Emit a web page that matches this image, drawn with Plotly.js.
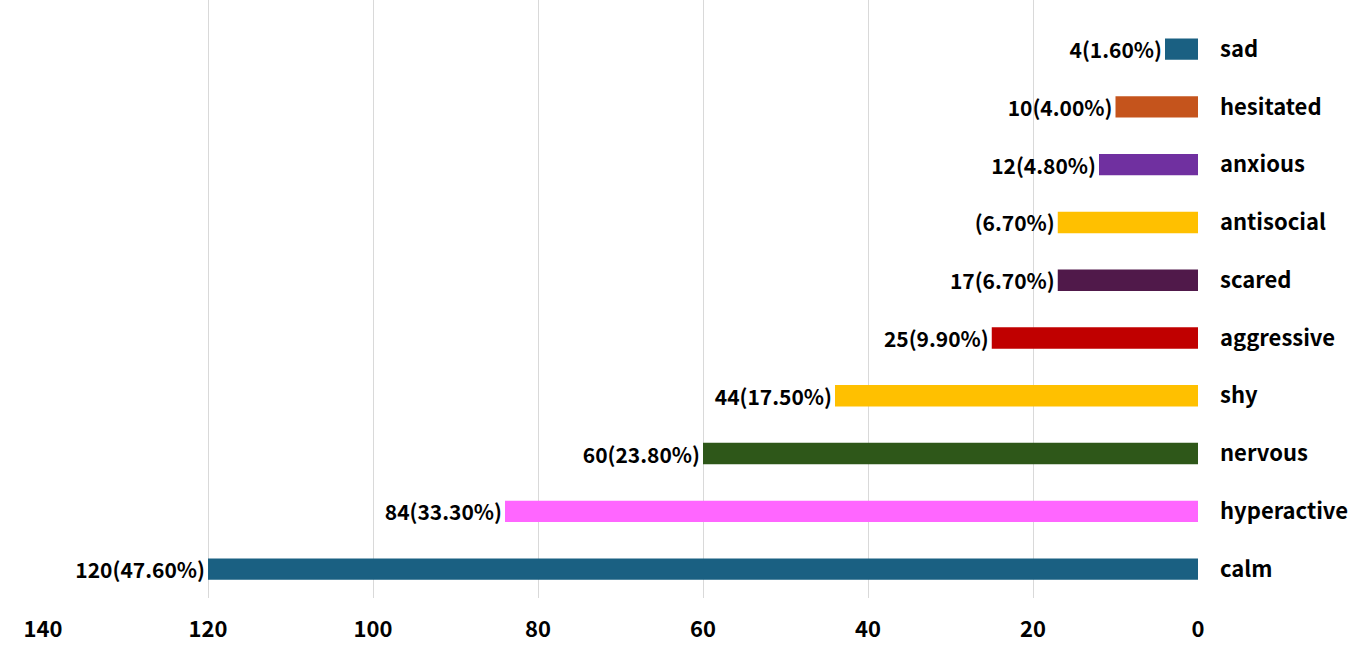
<!DOCTYPE html>
<html><head><meta charset="utf-8">
<script src="https://cdn.plot.ly/plotly-3.0.1.min.js"></script>
<style>body{margin:0}#c{width:1370px;height:653px}</style></head>
<body><div id="c"></div>
<script>
const categories = ["calm","hyperactive","nervous","shy","aggressive","scared","antisocial","anxious","hesitated","sad"];
const values = [120,84,60,44,25,17,17,12,10,4];
const labels = ["120(47.60%)","84(33.30%)","60(23.80%)","44(17.50%)","25(9.90%)","17(6.70%)","(6.70%)","12(4.80%)","10(4.00%)","4(1.60%)"];
const colors = ["#1a6082","#ff66ff","#2e5719","#ffc000","#c00000","#50194a","#ffc000","#7030a0","#c5541c","#1a6082"];
const xTicks = [0,20,40,60,80,100,120,140];
const F = '"Noto Sans CJK SC", "Liberation Sans", sans-serif';
Plotly.newPlot('c',[{
  type:'bar', orientation:'h', y:categories, x:values, text:labels,
  textposition:'outside', cliponaxis:false, constraintext:'none',
  textfont:{family:F,size:21,color:'#000',weight:'bold'},
  marker:{color:colors}, hoverinfo:'none'
}],{
  width:1370,height:653,margin:{l:43,r:172,t:0,b:55},
  bargap:0.63, showlegend:false, plot_bgcolor:'#fff', paper_bgcolor:'#fff',
  font:{family:F,size:22,color:'#000',weight:'bold'},
  xaxis:{range:[140,0],tickvals:xTicks,showgrid:true,gridcolor:'#d9d9d9',zeroline:false,
    tickfont:{family:F,size:22,weight:'bold'},ticks:'',ticklabelstandoff:16},
  yaxis:{side:'right',type:'category',showgrid:false,zeroline:false,ticks:'',ticklabelstandoff:21,
    range:[-0.5,9.85],tickfont:{family:F,size:22,weight:'bold'}}
},{staticPlot:true});
</script></body></html>
